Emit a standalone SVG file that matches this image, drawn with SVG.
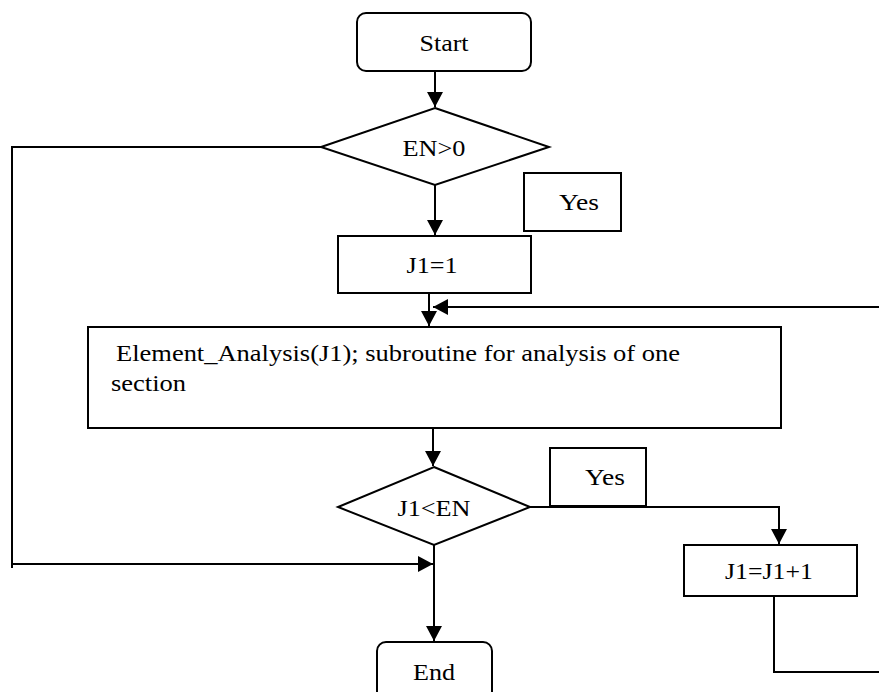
<svg xmlns="http://www.w3.org/2000/svg" width="879" height="692" viewBox="0 0 879 692">
<defs>
<marker id="ah" markerUnits="userSpaceOnUse" markerWidth="15" markerHeight="16" refX="15" refY="8" orient="auto">
<path d="M0,0 L15,8 L0,16 z" fill="#000"/>
</marker>
<style>
.s{fill:#fff;stroke:#000;stroke-width:2}
.c{fill:none;stroke:#000;stroke-width:2}
.t{font-family:"Liberation Serif","Times New Roman",serif;font-size:24px;fill:#000}
.m{text-anchor:middle}
</style>
</defs>
<rect width="879" height="692" fill="#fff"/>
<g id="connectors">
<path class="c" d="M435,71 V107" marker-end="url(#ah)"/>
<path class="c" d="M435,185 V235" marker-end="url(#ah)"/>
<path class="c" d="M429,293 V326" marker-end="url(#ah)"/>
<path class="c" d="M774,596 V672 H890 V307 H433" marker-end="url(#ah)"/>
<path class="c" d="M433,428 V466" marker-end="url(#ah)"/>
<path class="c" d="M530,507 H779 V544" marker-end="url(#ah)"/>
<path class="c" d="M321,147 H12 V568"/>
<path class="c" d="M12,564 H433" marker-end="url(#ah)"/>
<path class="c" d="M434,545 V641" marker-end="url(#ah)"/>
</g>
<g id="start">
<rect class="s" x="357" y="13" width="174" height="58" rx="9"/>
<text class="t m" x="444" y="51" textLength="49" lengthAdjust="spacingAndGlyphs">Start</text>
</g>
<g id="en_gt_0">
<polygon class="s" points="435,108 549,147 435,185 321,147"/>
<text class="t m" x="434" y="156" textLength="63" lengthAdjust="spacingAndGlyphs">EN&gt;0</text>
</g>
<g id="yes1">
<rect class="s" x="524" y="173" width="97" height="58"/>
<text class="t" x="559" y="210" textLength="40" lengthAdjust="spacingAndGlyphs">Yes</text>
</g>
<g id="j1_eq_1">
<rect class="s" x="338" y="236" width="193" height="57"/>
<text class="t m" x="432" y="273" textLength="51" lengthAdjust="spacingAndGlyphs">J1=1</text>
</g>
<g id="element_analysis">
<rect class="s" x="88" y="327" width="693" height="101"/>
<text class="t" x="116" y="361" textLength="564" lengthAdjust="spacingAndGlyphs">Element_Analysis(J1); subroutine for analysis of one</text>
<text class="t" x="111" y="391" textLength="75" lengthAdjust="spacingAndGlyphs">section</text>
</g>
<g id="j1_lt_en">
<polygon class="s" points="434,467 530,507 434,545 338,507"/>
<text class="t m" x="434" y="516" textLength="73" lengthAdjust="spacingAndGlyphs">J1&lt;EN</text>
</g>
<g id="yes2">
<rect class="s" x="550" y="448" width="96" height="58"/>
<text class="t" x="585" y="485" textLength="40" lengthAdjust="spacingAndGlyphs">Yes</text>
</g>
<g id="j1_inc">
<rect class="s" x="684" y="545" width="173" height="51"/>
<text class="t m" x="769" y="579" textLength="88" lengthAdjust="spacingAndGlyphs">J1=J1+1</text>
</g>
<g id="end">
<rect class="s" x="377" y="642" width="115" height="70" rx="9"/>
<text class="t m" x="434" y="680" textLength="42" lengthAdjust="spacingAndGlyphs">End</text>
</g>
</svg>
